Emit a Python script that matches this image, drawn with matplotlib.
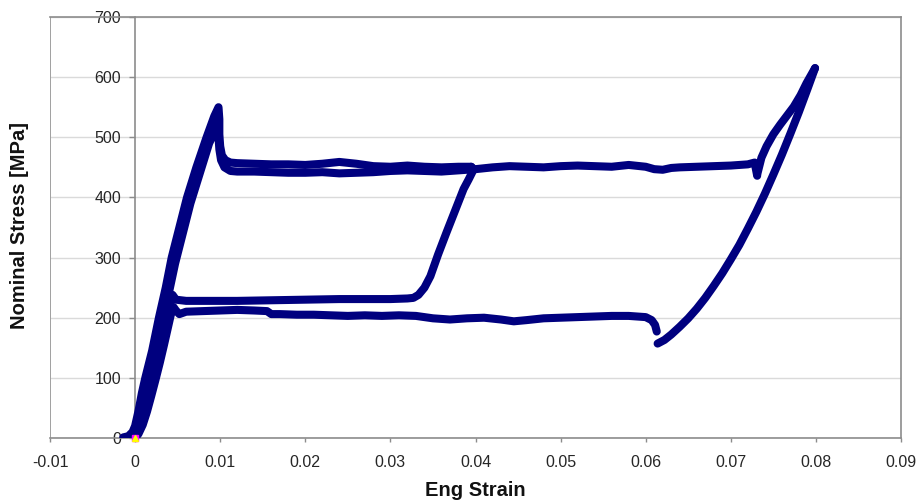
import matplotlib
matplotlib.use('Agg')
import matplotlib.pyplot as plt

# ---------------- data ----------------
x_ticks = [-0.01, 0, 0.01, 0.02, 0.03, 0.04, 0.05, 0.06, 0.07, 0.08, 0.09]
x_tick_labels = ['-0.01', '0', '0.01', '0.02', '0.03', '0.04', '0.05', '0.06', '0.07', '0.08', '0.09']
y_ticks = [0, 100, 200, 300, 400, 500, 600, 700]

# cycle 1: loading to the peak, plateau to 0.04
c1_load_strain = [-0.0014, -0.0008, -0.0003, 0.0, 0.0004, 0.0008, 0.0012, 0.0020, 0.0028, 0.0036,
                  0.0043, 0.0052, 0.0061, 0.0072, 0.0084, 0.0093, 0.0098, 0.0099, 0.0099, 0.0100,
                  0.0102, 0.0106, 0.0112, 0.0120, 0.0140, 0.0160, 0.0180, 0.0200, 0.0220, 0.0240,
                  0.0260, 0.0280, 0.0300, 0.0320, 0.0340, 0.0360, 0.0380, 0.0395]
c1_load_stress = [1, 3, 10, 20, 45, 75, 100, 145, 200, 250,
                  300, 350, 400, 450, 500, 535, 550, 530, 505, 485,
                  470, 462, 458, 457, 456, 455, 455, 454, 456, 459,
                  456, 452, 451, 453, 451, 450, 451, 451]

# cycle 1: unloading from 0.04, upper reverse plateau (~230), back to zero
c1_unload_strain = [0.0395, 0.0398, 0.0392, 0.0386, 0.0376, 0.0366, 0.0356, 0.0347, 0.0340, 0.0333,
                    0.0327, 0.0320, 0.0300, 0.0270, 0.0240, 0.0200, 0.0160, 0.0120, 0.0080, 0.0060,
                    0.0048, 0.0044, 0.0041, 0.0038, 0.0034, 0.0030, 0.0025, 0.0020, 0.0015, 0.0010,
                    0.0006, 0.0002, 0.0]
c1_unload_stress = [451, 447, 430, 414, 378, 342, 305, 269, 250, 238,
                    233, 232, 231, 231, 231, 230, 229, 228, 228, 228,
                    230, 238, 228, 208, 185, 158, 125, 95, 66, 40,
                    18, 6, 2]

# cycle 2: loading, plateau to 0.073
c2_load_strain = [0.0, 0.0004, 0.0009, 0.0015, 0.0022, 0.0030, 0.0038, 0.0047, 0.0056, 0.0065,
                  0.0076, 0.0087, 0.0097, 0.0098, 0.0099, 0.0101, 0.0105, 0.0112, 0.0120, 0.0140,
                  0.0160, 0.0180, 0.0200, 0.0220, 0.0240, 0.0260, 0.0280, 0.0300, 0.0320, 0.0340,
                  0.0360, 0.0380, 0.0400, 0.0420, 0.0440, 0.0460, 0.0480, 0.0500, 0.0520, 0.0540,
                  0.0560, 0.0580, 0.0600, 0.0610, 0.0620, 0.0630, 0.0640, 0.0660, 0.0680, 0.0700,
                  0.0720, 0.0728, 0.0731]
c2_load_stress = [5, 25, 55, 90, 130, 180, 230, 290, 340, 390,
                  440, 490, 520, 500, 480, 462, 450, 444, 443, 443,
                  442, 441, 441, 442, 440, 441, 442, 444, 445, 444,
                  443, 445, 447, 450, 452, 451, 450, 452, 453, 452,
                  451, 454, 451, 447, 446, 449, 450, 451, 452, 453,
                  455, 458, 436]

# cycle 2: reloading to the maximum
c2_reload_strain = [0.0731, 0.0736, 0.0742, 0.0750, 0.0758, 0.0766, 0.0774, 0.0782, 0.0789, 0.0799]
c2_reload_stress = [438, 466, 485, 505, 521, 536, 551, 570, 590, 615]

# cycle 2: unloading from the maximum
c2_unload_strain = [0.0799, 0.0790, 0.0780, 0.0770, 0.0760, 0.0750, 0.0740, 0.0730, 0.0720, 0.0710,
                    0.0700, 0.0690, 0.0680, 0.0670, 0.0660, 0.0650, 0.0640, 0.0630, 0.0622, 0.0614]
c2_unload_stress = [615, 580, 542, 506, 471, 438, 406, 376, 348, 321,
                    297, 274, 253, 233, 215, 199, 185, 172, 163, 157]

# cycle 2: lower reverse plateau (~200), back to zero
c2_return_strain = [0.0613, 0.0611, 0.0607, 0.0600, 0.0580, 0.0560, 0.0540, 0.0520, 0.0500, 0.0480,
                    0.0460, 0.0445, 0.0430, 0.0410, 0.0390, 0.0370, 0.0350, 0.0330, 0.0310, 0.0290,
                    0.0270, 0.0250, 0.0230, 0.0210, 0.0190, 0.0170, 0.0160, 0.0155, 0.0140, 0.0120,
                    0.0100, 0.0080, 0.0060, 0.0052, 0.0048, 0.0045, 0.0042, 0.0038, 0.0034, 0.0029,
                    0.0024, 0.0019, 0.0014, 0.0009, 0.0004, 0.0]
c2_return_stress = [177, 188, 196, 201, 203, 203, 202, 201, 200, 199,
                    196, 194, 197, 200, 199, 197, 199, 203, 204, 203,
                    204, 203, 204, 205, 205, 206, 206, 211, 212, 213,
                    212, 211, 210, 206, 212, 218, 205, 180, 155, 125,
                    97, 70, 44, 22, 7, 0]

# ---------------- figure ----------------
plt.rcParams['font.family'] = ['Liberation Sans', 'DejaVu Sans']

W, H = 919, 501
fig = plt.figure(figsize=(W / 100, H / 100), dpi=100)
ax = fig.add_axes([50 / W, 1 - 438 / H, (901 - 50) / W, (438 - 17) / H])
ax.set_xlim(-0.01, 0.09)
ax.set_ylim(0, 700)

navy = '#00007F'
style = dict(color=navy, lw=5.8, solid_joinstyle='round', solid_capstyle='round', zorder=3)
segments = [
    (c1_load_strain, c1_load_stress),
    (c1_unload_strain, c1_unload_stress),
    (c2_load_strain, c2_load_stress),
    (c2_reload_strain, c2_reload_stress),
    (c2_unload_strain, c2_unload_stress),
    (c2_return_strain, c2_return_stress),
]
for xs, ys in segments:
    ax.plot(xs, ys, **style)

# origin markers
ax.plot([0], [0], marker='s', ms=5, color='#FF00FF', mec='#FF00FF', zorder=5, clip_on=False)
ax.plot([0], [0], marker='^', ms=5, color='#FFFF00', mec='#FFFF00', zorder=6, clip_on=False)

# axes styling (Excel-like)
ax.set_xticks(x_ticks)
ax.set_xticklabels(x_tick_labels)
ax.set_yticks(y_ticks)
ax.spines['left'].set_position(('data', 0))
for s in ['left', 'right', 'top', 'bottom']:
    ax.spines[s].set_color('#8c8c8c')
    ax.spines[s].set_linewidth(1.2)
ax.axvline(-0.01, color='#a0a0a0', lw=1.4, zorder=1)
ax.yaxis.grid(True, color='#dadada', lw=1.0)
ax.set_axisbelow(True)
ax.tick_params(axis='x', direction='out', length=3, width=1, color='#8c8c8c',
               labelsize=11.5, labelcolor='#262626', pad=9)
ax.tick_params(axis='y', direction='out', length=4, width=1, color='#8c8c8c',
               labelsize=11.5, labelcolor='#262626', pad=6)

fig.text(20 / W, 1 - 226 / H, 'Nominal Stress [MPa]', rotation=90, ha='center', va='center',
         fontsize=14.5, fontweight='bold', color='#111111')
fig.text(475 / W, 1 - 481 / H, 'Eng Strain', ha='center', va='top',
         fontsize=14.5, fontweight='bold', color='#111111')

fig.savefig('out.png', dpi=100)
